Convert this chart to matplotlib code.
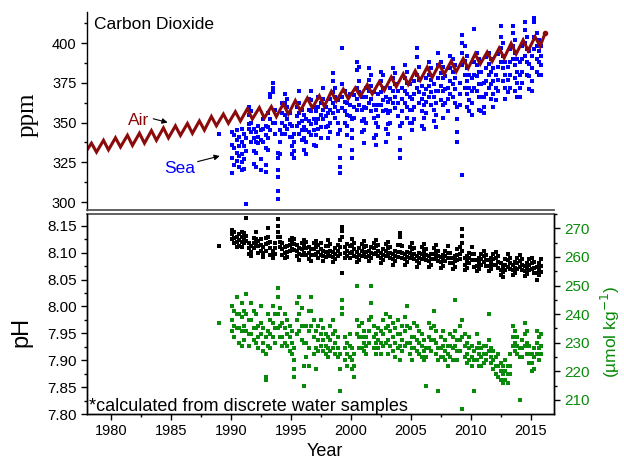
"""
Hawaii ocean time-series: CO2 in air and sea, surface pH and carbonate ion.
"""
import numpy as np
import matplotlib
matplotlib.use("Agg")
import matplotlib.pyplot as plt
from matplotlib.ticker import MultipleLocator, FormatStrFormatter

SANS = "Liberation Sans"
SERIF = "Liberation Serif"
RED = "#8b0a0a"
BLUE = "#0000ff"
GREEN = "#0a8a0a"

# Mauna Loa air CO2 (ppm): yearly May peak and Oct low
AIR_YEARS = list(range(1977, 2016))
AIR_PEAK = [336.0, 337.0, 338.8, 340.4, 342.0, 343.3, 344.9, 346.6, 347.9, 349.4,
            351.0, 353.8, 355.3, 356.8, 358.7, 359.4, 360.0, 361.8, 363.8, 365.4,
            366.8, 369.5, 371.0, 371.8, 373.8, 375.6, 378.6, 380.6, 382.5, 384.9,
            386.7, 388.6, 390.2, 393.2, 394.3, 396.8, 399.8, 401.9, 403.9]
AIR_LOW = [330.4, 331.4, 332.8, 334.6, 335.6, 337.0, 338.8, 340.3, 341.9, 343.2,
           345.2, 348.0, 349.5, 350.9, 352.2, 352.8, 353.7, 355.3, 357.3, 359.2,
           360.2, 363.5, 364.9, 366.6, 367.9, 370.1, 372.5, 374.0, 376.5, 378.3,
           380.4, 381.9, 384.1, 386.7, 388.4, 390.6, 393.1, 395.2, 397.9]
AIR_PEAK_MONTH = 5
AIR_LOW_MONTH = 10
AIR_END = (2016.2, 406.0)

# cruise dates (decimal year)
cruise_time = [
    1988.97,
    1990.1, 1990.3, 1990.5, 1990.7, 1990.9,
    1991.1, 1991.3, 1991.5, 1991.7, 1991.9,
    1992.1, 1992.3, 1992.5, 1992.7, 1992.9,
    1993.1, 1993.3, 1993.5, 1993.7, 1993.9,
    1994.1, 1994.3, 1994.5, 1994.7, 1994.9,
    1995.1, 1995.3, 1995.5, 1995.7, 1995.9,
    1996.1, 1996.3, 1996.5, 1996.7, 1996.9,
    1997.1, 1997.3, 1997.5, 1997.7, 1997.9,
    1998.1, 1998.3, 1998.5, 1998.7, 1998.9,
    1999.1, 1999.3, 1999.5, 1999.7, 1999.9,
    2000.1, 2000.3, 2000.5, 2000.7, 2000.9,
    2001.1, 2001.3, 2001.5, 2001.7, 2001.9,
    2002.1, 2002.3, 2002.5, 2002.7, 2002.9,
    2003.1, 2003.3, 2003.5, 2003.7, 2003.9,
    2004.1, 2004.3, 2004.5, 2004.7, 2004.9,
    2005.1, 2005.3, 2005.5, 2005.7, 2005.9,
    2006.1, 2006.3, 2006.5, 2006.7, 2006.9,
    2007.1, 2007.3, 2007.5, 2007.7, 2007.9,
    2008.1, 2008.3, 2008.5, 2008.7, 2008.9,
    2009.1, 2009.3, 2009.5, 2009.7, 2009.9,
    2010.1, 2010.3, 2010.5, 2010.7, 2010.9,
    2011.1, 2011.3, 2011.5, 2011.7, 2011.9,
    2012.1, 2012.3, 2012.5, 2012.7, 2012.9,
    2013.1, 2013.3, 2013.5, 2013.7, 2013.9,
    2014.1, 2014.3, 2014.5, 2014.7, 2014.9,
    2015.1, 2015.3, 2015.5, 2015.7, 2015.9,
]

# seawater pCO2 (ppm), one list per cruise
sea_pco2 = [
    [343],
    [344, 336, 328, 318], [342, 334, 323], [345, 339, 331, 326], [341, 335, 329, 322], [346, 338, 330, 325, 320],
    [343, 335, 327, 321], [340, 332, 299], [360, 355, 349, 346], [357, 350, 344, 338], [346, 340, 332, 324],
    [344, 338, 331, 322], [348, 341, 337], [345, 339, 327, 320], [352, 346, 338], [348, 342, 334, 323, 319],
    [356, 347, 340, 333], [366, 368, 352, 345], [375, 372, 369, 350], [358, 350, 343], [331, 328, 320, 316, 307, 302],
    [345, 338, 330], [362, 356, 350, 343], [368, 362, 355, 348, 343], [365, 360, 352, 346], [356, 349, 341],
    [348, 341, 335, 330], [343, 338, 332, 328], [360, 354, 348], [370, 362, 356, 350, 343], [358, 351, 345, 339],
    [355, 347, 340, 333], [352, 345, 338, 330], [365, 358, 351, 344], [370, 364, 357, 349, 342], [360, 352, 345, 336],
    [357, 350, 342, 335], [366, 360, 352, 346], [362, 355, 347, 340], [372, 365, 358, 352], [360, 354, 347],
    [356, 348, 340], [365, 358, 350, 344], [381, 376, 369, 362, 356], [372, 366, 360, 353], [364, 357, 350, 343],
    [345, 335, 328, 322, 318], [397, 374, 366, 359], [370, 363, 357, 350], [362, 355, 348, 342], [368, 361, 354],
    [352, 345, 340, 333, 328], [367, 360, 353], [388, 383, 372, 365, 358], [385, 376, 369, 361], [366, 358, 351, 344],
    [360, 352, 345, 337], [372, 366, 359, 350], [384, 377, 370, 362], [380, 373, 365, 357], [369, 361, 353, 340],
    [358, 350, 342, 336], [368, 361, 354, 347], [382, 376, 369, 361], [380, 372, 364, 357], [366, 358, 346, 338],
    [363, 356, 349, 343], [372, 365, 357, 350], [384, 378, 370, 362], [381, 374, 366, 359], [370, 362, 354],
    [348, 340, 333, 328], [372, 365, 357, 350], [386, 378, 370, 362], [382, 375, 368, 360, 353], [374, 366, 358, 350],
    [365, 358, 350, 345], [376, 368, 360, 352], [397, 391, 380, 372], [385, 377, 369, 362], [373, 365, 357, 348],
    [368, 361, 353, 346], [378, 371, 363, 356], [388, 380, 373, 366], [384, 377, 369, 361], [374, 366, 358, 351],
    [370, 362, 355, 347], [394, 386, 378, 370], [388, 381, 373, 364], [385, 378, 370, 361, 353], [379, 371, 362],
    [372, 365, 357], [392, 384, 376, 368], [390, 382, 374, 366], [386, 378, 371, 362], [360, 352, 344, 338],
    [375, 368, 361], [405, 400, 394, 386, 317], [398, 389, 380, 372], [392, 384, 376, 368, 360], [380, 372, 364, 357],
    [378, 370, 362, 355], [409, 388, 380, 372], [394, 386, 379, 370], [390, 382, 374, 366, 358], [382, 374, 366, 357],
    [375, 366, 360, 356], [391, 384, 376, 368], [394, 387, 380, 372], [390, 382, 374, 365], [384, 376, 368, 360],
    [380, 372, 364], [393, 385, 377, 370], [411, 404, 397, 388], [400, 392, 384, 376], [388, 380, 372, 365],
    [385, 377, 369], [396, 388, 380, 372], [411, 406, 398, 390], [402, 394, 386, 378, 370], [390, 382, 375, 366],
    [388, 380, 372, 366], [398, 390, 382, 375], [413, 408, 400, 392], [404, 396, 388, 380], [395, 387, 379, 371],
    [392, 384, 376, 370], [416, 413, 404, 396], [406, 398, 390, 382], [402, 395, 388, 380], [398, 392, 386, 380],
]

# surface pH*, one list per cruise
ph = [
    [8.113],
    [8.142, 8.134, 8.125], [8.138, 8.128, 8.118], [8.130, 8.120, 8.110], [8.135, 8.124, 8.113], [8.138, 8.129, 8.120, 8.110],
    [8.136, 8.127, 8.118], [8.164, 8.132, 8.121], [8.118, 8.108, 8.098], [8.112, 8.102, 8.093], [8.128, 8.118, 8.109],
    [8.138, 8.126, 8.115], [8.122, 8.112, 8.100], [8.125, 8.115, 8.104], [8.110, 8.100, 8.092], [8.128, 8.116, 8.104],
    [8.146, 8.130, 8.118], [8.120, 8.108, 8.096], [8.104, 8.096, 8.090], [8.118, 8.108, 8.098], [8.162, 8.150, 8.138, 8.129],
    [8.130, 8.120, 8.110], [8.118, 8.106, 8.096], [8.110, 8.100, 8.090], [8.112, 8.102, 8.092], [8.124, 8.114, 8.104],
    [8.128, 8.118, 8.106], [8.126, 8.116, 8.105], [8.114, 8.104, 8.094], [8.108, 8.098, 8.086], [8.118, 8.106, 8.096],
    [8.124, 8.112, 8.100], [8.120, 8.108, 8.096], [8.110, 8.100, 8.088], [8.106, 8.096, 8.084], [8.118, 8.106, 8.095],
    [8.122, 8.110, 8.098], [8.114, 8.102, 8.090], [8.118, 8.106, 8.096], [8.104, 8.094, 8.084], [8.112, 8.102, 8.092],
    [8.124, 8.112, 8.100], [8.116, 8.104, 8.094], [8.102, 8.092, 8.082], [8.108, 8.098, 8.088], [8.114, 8.104, 8.094],
    [8.124, 8.110, 8.098], [8.148, 8.140, 8.130, 8.062], [8.110, 8.100, 8.090], [8.116, 8.104, 8.094], [8.112, 8.100, 8.090],
    [8.126, 8.114, 8.102], [8.118, 8.106, 8.094], [8.102, 8.092, 8.082], [8.108, 8.096, 8.086], [8.116, 8.104, 8.094],
    [8.122, 8.110, 8.098], [8.112, 8.102, 8.092], [8.104, 8.094, 8.084], [8.110, 8.100, 8.090], [8.118, 8.108, 8.098],
    [8.124, 8.112, 8.100], [8.114, 8.104, 8.094], [8.100, 8.090, 8.080], [8.106, 8.096, 8.086], [8.116, 8.104, 8.094],
    [8.120, 8.108, 8.096], [8.110, 8.100, 8.090], [8.098, 8.088, 8.078], [8.104, 8.094, 8.084], [8.114, 8.102, 8.092],
    [8.136, 8.129, 8.114, 8.102], [8.112, 8.100, 8.090], [8.098, 8.088, 8.078], [8.102, 8.092, 8.082], [8.110, 8.100, 8.090],
    [8.118, 8.106, 8.095], [8.108, 8.098, 8.088], [8.094, 8.084, 8.074], [8.100, 8.090, 8.080], [8.110, 8.098, 8.088],
    [8.116, 8.104, 8.092], [8.106, 8.096, 8.086], [8.094, 8.084, 8.074], [8.098, 8.088, 8.078], [8.108, 8.098, 8.088],
    [8.114, 8.102, 8.090], [8.104, 8.094, 8.084], [8.092, 8.082, 8.072], [8.096, 8.086, 8.076], [8.104, 8.094, 8.084],
    [8.112, 8.100, 8.090], [8.100, 8.090, 8.080], [8.090, 8.080, 8.070], [8.094, 8.084, 8.074], [8.106, 8.096, 8.086],
    [8.110, 8.098, 8.088], [8.145, 8.132, 8.118, 8.104], [8.090, 8.078, 8.068], [8.094, 8.082, 8.072], [8.100, 8.090, 8.080],
    [8.110, 8.098, 8.086], [8.098, 8.086, 8.074], [8.086, 8.076, 8.066], [8.090, 8.080, 8.070], [8.098, 8.088, 8.078],
    [8.104, 8.094, 8.082], [8.096, 8.086, 8.076], [8.086, 8.076, 8.066], [8.090, 8.080, 8.070], [8.098, 8.088, 8.078],
    [8.102, 8.090, 8.078], [8.094, 8.082, 8.072], [8.080, 8.068, 8.058], [8.076, 8.064, 8.054], [8.088, 8.078, 8.068],
    [8.098, 8.086, 8.074], [8.090, 8.080, 8.070], [8.078, 8.068, 8.058], [8.082, 8.072, 8.062], [8.090, 8.080, 8.070],
    [8.096, 8.084, 8.074], [8.088, 8.078, 8.068], [8.076, 8.066, 8.056], [8.080, 8.070, 8.060], [8.088, 8.078, 8.068],
    [8.090, 8.080, 8.070], [8.082, 8.072, 8.062], [8.074, 8.062, 8.050], [8.080, 8.068, 8.058], [8.088, 8.076, 8.064],
]

# carbonate ion (umol/kg), one list per cruise
co3 = [
    [237],
    [243, 238, 234], [241, 236, 232], [246, 240, 235], [240, 235, 230], [244, 239, 234, 229],
    [241, 236, 231], [247, 240, 234], [238, 233, 229], [244, 238, 233], [241, 235, 231],
    [240, 235, 230], [236, 232, 228], [243, 237, 233], [235, 230, 227], [232, 226, 218, 217],
    [240, 234, 229], [238, 233, 228], [243, 237, 232], [240, 235, 230], [249, 246, 240, 235],
    [242, 236, 232], [237, 232, 229], [240, 235, 230], [238, 233, 229], [236, 232, 227],
    [234, 230, 226], [228, 224, 221, 218], [244, 238, 233], [246, 240, 234], [242, 236, 231],
    [230, 222, 215], [236, 230, 225], [241, 234, 228, 222], [246, 241, 236], [238, 232, 226],
    [234, 228, 221], [236, 231, 227], [238, 233, 229], [235, 231, 227], [233, 229, 226],
    [232, 228, 225], [236, 231, 227], [238, 233, 228], [234, 230, 226], [232, 228, 225],
    [226, 221, 213], [245, 242, 240], [232, 228, 224], [230, 226, 222], [233, 229, 225],
    [228, 224, 221], [226, 222, 218], [250, 238, 233], [236, 232, 228], [237, 232, 228],
    [234, 230, 227], [232, 229, 226], [238, 234, 230], [250, 244, 239], [236, 232, 228],
    [233, 230, 226], [235, 231, 228], [234, 230, 226], [238, 233, 229], [240, 235, 230],
    [236, 231, 226], [239, 234, 229], [237, 232, 227], [235, 230, 225], [238, 233, 228],
    [233, 229, 224], [236, 231, 227], [239, 234, 229], [243, 236, 230], [235, 230, 226],
    [232, 228, 224], [237, 232, 228], [236, 231, 227], [234, 230, 226], [233, 229, 225],
    [231, 227, 224], [228, 225, 215], [237, 232, 228], [235, 231, 227], [241, 236, 231],
    [234, 230, 226], [228, 224, 213], [232, 228, 225], [234, 229, 225], [231, 227, 224],
    [229, 226, 222], [233, 229, 225], [232, 228, 224], [245, 234, 229], [231, 227, 224],
    [236, 231, 227], [238, 232, 207], [233, 229, 225], [230, 226, 223], [232, 228, 224],
    [229, 225, 222], [227, 224, 213], [233, 228, 224], [230, 226, 222], [228, 225, 222],
    [229, 226, 223], [229, 226, 224], [240, 231, 227], [228, 225, 223], [227, 224, 221],
    [225, 222, 219], [226, 222, 218], [223, 220, 217], [222, 219, 216], [224, 220, 217],
    [222, 219, 216], [226, 222, 219], [236, 232, 229], [234, 230, 227], [232, 229, 226],
    [228, 225, 210], [231, 228, 225], [237, 233, 229], [234, 230, 226], [229, 226, 223],
    [226, 223, 220], [228, 225, 221], [234, 230, 226], [232, 228, 224], [233, 229, 226],
]

YEAR_TICKS = [1980, 1985, 1990, 1995, 2000, 2005, 2010, 2015]


def streaks(times, groups):
    """Flatten per-cruise sample lists into x, y arrays."""
    x = np.repeat(times, [len(g) for g in groups])
    y = np.concatenate([np.asarray(g, float) for g in groups])
    return x, y


plt.rcParams["font.family"] = [SANS, "DejaVu Sans"]
plt.rcParams["axes.linewidth"] = 1.0

fig = plt.figure(figsize=(6.24, 4.61), dpi=100)
ax1 = fig.add_axes([87 / 624, 1 - 210 / 461, 467 / 624, 198 / 461])
ax2 = fig.add_axes([87 / 624, 1 - 414 / 461, 467 / 624, 200 / 461])
ax3 = ax2.twinx()

xlim = (1978.0, 2016.95)

# --- top panel: CO2
xs, ys = streaks(cruise_time, sea_pco2)
ax1.plot(xs, ys, ls="none", marker="s", ms=2.3, mew=0, color=BLUE)

air_x, air_y = [], []
for yr, pk, lo in zip(AIR_YEARS, AIR_PEAK, AIR_LOW):
    air_x += [yr + (AIR_PEAK_MONTH - 0.5) / 12, yr + (AIR_LOW_MONTH - 0.5) / 12]
    air_y += [pk, lo]
air_x.append(AIR_END[0])
air_y.append(AIR_END[1])
ax1.plot(air_x, air_y, color=RED, lw=2.2, solid_joinstyle="miter")
ax1.plot([AIR_END[0]], [AIR_END[1]], "o", ms=3, color=RED)

ax1.set_xlim(*xlim)
ax1.set_ylim(295, 419.5)
ax1.yaxis.set_major_locator(MultipleLocator(25))
ax1.yaxis.set_minor_locator(MultipleLocator(12.5))
ax1.tick_params(axis="y", which="major", direction="out", length=4, width=1, labelsize=10.5)
ax1.tick_params(axis="y", which="minor", direction="out", length=2.5, width=1)
ax1.tick_params(axis="x", which="both", bottom=False, labelbottom=False)
ax1.spines["top"].set_visible(False)
ax1.spines["right"].set_visible(False)
ax1.spines["bottom"].set_color("#555555")
ax1.spines["bottom"].set_linewidth(1.3)

ax1.text(0.016, 0.935, "Carbon Dioxide", transform=ax1.transAxes, fontsize=12.5,
         ha="left", va="center")
ax1.text(1982.3, 351.5, "Air", color=RED, fontsize=12.5, ha="center", va="center")
ax1.annotate("", xy=(1984.95, 349.6), xytext=(1983.3, 352.8),
             arrowprops=dict(arrowstyle="-|>", color="k", lw=0.8, mutation_scale=8))
ax1.text(1985.7, 321.3, "Sea", color=BLUE, fontsize=12.5, ha="center", va="center")
ax1.annotate("", xy=(1989.3, 329.4), xytext=(1987.0, 325.0),
             arrowprops=dict(arrowstyle="-|>", color="k", lw=0.8, mutation_scale=8))

# --- bottom panel: pH and carbonate ion
xs, ys = streaks(cruise_time, ph)
ax2.plot(xs, ys, ls="none", marker="s", ms=2.3, mew=0, color="black")
xs, ys = streaks(cruise_time, co3)
ax3.plot(xs, ys, ls="none", marker="s", ms=2.3, mew=0, color=GREEN)

ax2.set_xlim(*xlim)
ax2.set_ylim(7.80, 8.172)
ax2.yaxis.set_major_locator(MultipleLocator(0.05))
ax2.yaxis.set_minor_locator(MultipleLocator(0.025))
ax2.yaxis.set_major_formatter(FormatStrFormatter("%.2f"))
ax2.set_xticks(YEAR_TICKS)
ax2.xaxis.set_minor_locator(MultipleLocator(2.5))
ax2.tick_params(which="major", direction="out", length=4, width=1, labelsize=11)
ax2.tick_params(which="minor", direction="out", length=2.5, width=1)
ax2.tick_params(axis="x", labelsize=10.5)
ax2.spines["top"].set_color("#555555")
ax2.spines["top"].set_linewidth(1.3)

ax3.set_ylim(205.1, 275)
ax3.yaxis.set_major_locator(MultipleLocator(10))
ax3.yaxis.set_minor_locator(MultipleLocator(5))
ax3.tick_params(which="major", direction="out", length=4, width=1, labelsize=11,
                labelcolor=GREEN)
ax3.tick_params(which="minor", direction="out", length=2.5, width=1)
ax3.spines["top"].set_visible(False)

ax2.text(0.004, 0.04, "*calculated from discrete water samples", transform=ax2.transAxes,
         fontsize=13, ha="left", va="center")

fig.text(28 / 624, 1 - 115 / 461, "ppm", family=SERIF, fontsize=18, rotation=90,
         ha="center", va="center")
fig.text(21 / 624, 1 - 332 / 461, "pH", fontsize=17, rotation=90, ha="center", va="center")
fig.text(610 / 624, 1 - 332 / 461, "(\u00b5mol kg$^{-1}$)", fontsize=12.5, rotation=90,
         color=GREEN, ha="center", va="center")
fig.text(325 / 624, 1 - 451 / 461, "Year", fontsize=13, ha="center", va="center")

fig.savefig("out.png", dpi=100)
